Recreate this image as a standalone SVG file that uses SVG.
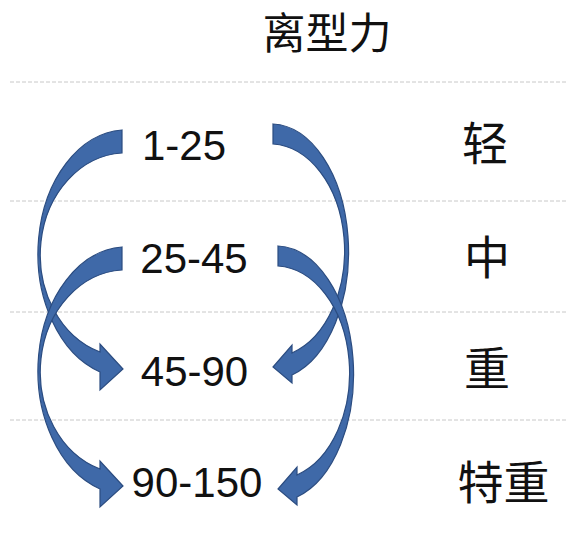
<svg xmlns="http://www.w3.org/2000/svg" width="587" height="539" viewBox="0 0 587 539">
<style>
.grid{stroke:#c8c8c8;stroke-width:1;stroke-dasharray:4 2;fill:none}
.arrow{fill:#3f69a8;stroke:#2b4c80;stroke-width:1.2;stroke-linejoin:miter}
.num{font-family:"Liberation Sans",Arial,sans-serif;font-size:42px;fill:#111;text-anchor:middle}
.cjk{font-family:"Noto Sans CJK SC","Noto Sans",sans-serif;font-size:46px;fill:#111;text-anchor:middle}
</style>
<rect width="587" height="539" fill="#ffffff"/>
<g id="gridlines">
<line class="grid" x1="10" y1="82" x2="568" y2="82"/>
<line class="grid" x1="10" y1="201" x2="568" y2="201"/>
<line class="grid" x1="10" y1="312" x2="568" y2="312"/>
<line class="grid" x1="10" y1="420" x2="568" y2="420"/>
</g>
<g id="title"><text class="cjk" x="327" y="49" style="font-size:43px">离型力</text></g>
<g id="connectors">
<path id="arrowA" class="arrow" d="M 122 130 A 89 124 0 0 0 100 372 L 100 390 L 123 369 L 100 344 L 100 352 A 86 102 0 0 1 122 153 Z"/>
<path id="arrowC" class="arrow" transform="translate(0,117)" d="M 122 130 A 89 124 0 0 0 100 372 L 100 390 L 123 369 L 100 344 L 100 352 A 86 102 0 0 1 122 153 Z"/>
<path id="arrowB" class="arrow" d="M 273 124 A 78 128 0 0 1 292 375 L 292 383 L 273 367 L 292 345 L 292 353 A 75 107 0 0 0 273 144 Z"/>
<path id="arrowD" class="arrow" transform="translate(5,122)" d="M 273 124 A 78 128 0 0 1 292 375 L 292 383 L 273 367 L 292 345 L 292 353 A 75 107 0 0 0 273 144 Z"/>
</g>
<g id="node-1-25"><text class="num" x="184" y="160">1-25</text></g>
<g id="node-25-45"><text class="num" x="194" y="273">25-45</text></g>
<g id="node-45-90"><text class="num" x="194.5" y="386">45-90</text></g>
<g id="node-90-150"><text class="num" x="197" y="497">90-150</text></g>
<g id="label-light"><text class="cjk" x="485" y="160">轻</text></g>
<g id="label-medium"><text class="cjk" x="487" y="274">中</text></g>
<g id="label-heavy"><text class="cjk" x="487" y="385">重</text></g>
<g id="label-extra-heavy"><text class="cjk" x="503.5" y="499">特重</text></g>
</svg>
